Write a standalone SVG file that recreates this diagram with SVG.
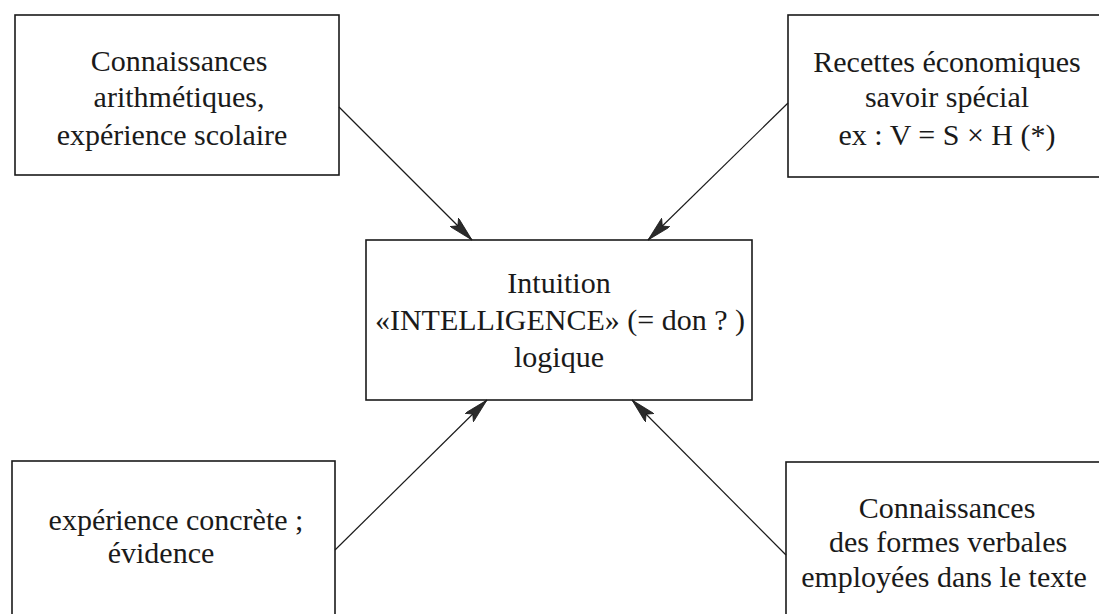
<svg xmlns="http://www.w3.org/2000/svg" width="1099" height="614" viewBox="0 0 1099 614">
<style>
.box{fill:none;stroke:#1a1a1a;stroke-width:1.6}
.t{font-family:"Liberation Serif","DejaVu Serif",serif;font-size:30px;fill:#1a1a1a;text-anchor:middle}
.c{fill:none;stroke:#1a1a1a;stroke-width:1.2}
</style>
<defs>
<marker id="ah" markerUnits="userSpaceOnUse" markerWidth="26" markerHeight="12" refX="25" refY="6" orient="auto">
<path d="M0,0 L25,6 L0,12 L5,6 Z" fill="#2a2a2a" stroke="#1a1a1a" stroke-width="0.8"/>
</marker>
</defs>
<rect width="1099" height="614" fill="#ffffff"/>
<g id="connectors">
<line class="c" x1="339" y1="107" x2="472" y2="240" marker-end="url(#ah)"/>
<line class="c" x1="788" y1="103" x2="648" y2="240" marker-end="url(#ah)"/>
<line class="c" x1="335" y1="550" x2="487" y2="400" marker-end="url(#ah)"/>
<line class="c" x1="786" y1="555" x2="632" y2="400" marker-end="url(#ah)"/>
</g>
<g id="node-arith">
<rect class="box" x="15" y="15" width="324" height="160"/>
<text class="t" x="179" y="71">Connaissances</text>
<text class="t" x="179" y="107">arithmétiques,</text>
<text class="t" x="172" y="145">expérience scolaire</text>
</g>
<g id="node-recettes">
<rect class="box" x="788" y="15" width="330" height="162"/>
<text class="t" x="947" y="72">Recettes économiques</text>
<text class="t" x="947" y="107">savoir spécial</text>
<text class="t" x="947" y="145">ex : V = S × H (*)</text>
</g>
<g id="node-intelligence">
<rect class="box" x="366" y="240" width="386" height="160"/>
<text class="t" x="559" y="293">Intuition</text>
<text class="t" x="560" y="330">«INTELLIGENCE» (= don ? )</text>
<text class="t" x="559" y="367">logique</text>
</g>
<g id="node-concrete">
<rect class="box" x="12" y="461" width="323" height="170"/>
<text class="t" x="176" y="530">expérience concrète ;</text>
<text class="t" x="161" y="563">évidence</text>
</g>
<g id="node-verbales">
<rect class="box" x="786" y="462" width="330" height="170"/>
<text class="t" x="947" y="518">Connaissances</text>
<text class="t" x="948" y="552">des formes verbales</text>
<text class="t" x="944" y="587">employées dans le texte</text>
</g>
</svg>
